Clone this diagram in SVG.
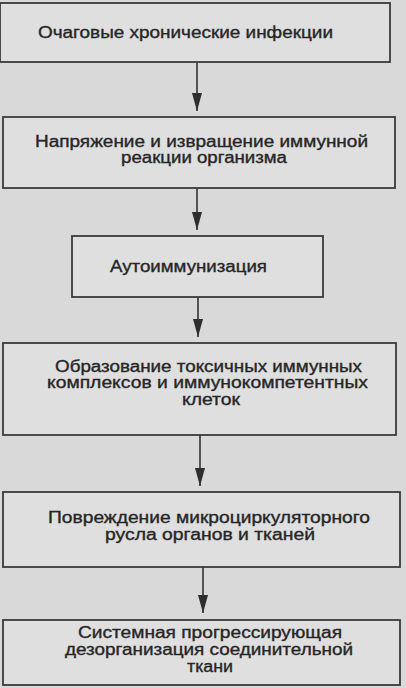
<svg xmlns="http://www.w3.org/2000/svg" width="406" height="688" viewBox="0 0 406 688">
<style>
.bg{fill:#d9d9d9}
.box{fill:#dfdfdf;stroke:#3a3a3a;stroke-width:1.8}
.t{font-family:"Liberation Sans",Arial,sans-serif;font-size:16px;fill:#262626;stroke:#262626;stroke-width:0.35;text-anchor:middle}
.c{stroke:#333;stroke-width:1.6;fill:none}
</style>
<defs>
<marker id="ah" viewBox="0 0 18 10" refX="18" refY="5" markerWidth="18" markerHeight="10" markerUnits="userSpaceOnUse" orient="auto">
<path d="M0,0 L18,5 L0,10 Z" fill="#2e2e2e"/>
</marker>
</defs>
<rect class="bg" x="0" y="0" width="406" height="688"/>
<g id="connectors">
<line class="c" x1="197" y1="62" x2="197" y2="111" marker-end="url(#ah)"/>
<line class="c" x1="197" y1="188" x2="197" y2="230" marker-end="url(#ah)"/>
<line class="c" x1="198" y1="297" x2="198" y2="337" marker-end="url(#ah)"/>
<line class="c" x1="200" y1="435" x2="200" y2="486" marker-end="url(#ah)"/>
<line class="c" x1="203" y1="567" x2="203" y2="613" marker-end="url(#ah)"/>
</g>
<g id="n1">
<rect class="box" x="0" y="3" width="390" height="59"/>
<text class="t" x="185.5" y="38" textLength="295" lengthAdjust="spacingAndGlyphs">Очаговые хронические инфекции</text>
</g>
<g id="n2">
<rect class="box" x="3" y="117" width="392" height="71"/>
<text class="t" x="201.5" y="147" textLength="333" lengthAdjust="spacingAndGlyphs">Напряжение и извращение  иммунной</text>
<text class="t" x="204" y="163" textLength="166" lengthAdjust="spacingAndGlyphs">реакции организма</text>
</g>
<g id="n3">
<rect class="box" x="72" y="236" width="251" height="61"/>
<text class="t" x="188.5" y="272" textLength="157" lengthAdjust="spacingAndGlyphs">Аутоиммунизация</text>
</g>
<g id="n4">
<rect class="box" x="3" y="343" width="393" height="92"/>
<text class="t" x="208.5" y="372" textLength="307" lengthAdjust="spacingAndGlyphs">Образование токсичных иммунных</text>
<text class="t" x="207.5" y="388" textLength="321" lengthAdjust="spacingAndGlyphs">комплексов и иммунокомпетентных</text>
<text class="t" x="211" y="405" textLength="58" lengthAdjust="spacingAndGlyphs">клеток</text>
</g>
<g id="n5">
<rect class="box" x="3" y="492" width="397" height="75"/>
<text class="t" x="209" y="523" textLength="322" lengthAdjust="spacingAndGlyphs">Повреждение микроциркуляторного</text>
<text class="t" x="210" y="540" textLength="210" lengthAdjust="spacingAndGlyphs">русла органов и тканей</text>
</g>
<g id="n6">
<rect class="box" x="3" y="620" width="397" height="65"/>
<text class="t" x="210" y="638" textLength="264" lengthAdjust="spacingAndGlyphs">Системная прогрессирующая</text>
<text class="t" x="209" y="655" textLength="288" lengthAdjust="spacingAndGlyphs">дезорганизация соединительной</text>
<text class="t" x="210" y="672" textLength="46" lengthAdjust="spacingAndGlyphs">ткани</text>
</g>
</svg>
